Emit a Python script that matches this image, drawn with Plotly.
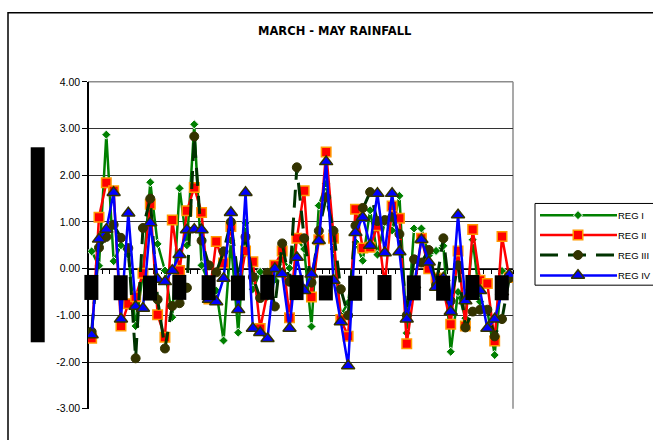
import plotly.graph_objects as go

W, H = 653, 440

# ---- data -------------------------------------------------------------
years = list(range(1950, 2008))

reg_i = [0.37, 0.06, 2.87, 0.16, 0.50, 0.30, -1.23, -0.10, 1.85, 0.53,
         -0.04, -1.04, 1.72, 0.50, 3.09, 0.07, -0.30, -0.47, -1.54, 0.60,
         -1.37, 0.98, -0.44, -0.07, -0.60, -0.24, 0.20, 0.01, 0.65, 0.42,
         -1.24, 1.35, 1.82, 0.42, -1.00, -0.73, 0.57, 0.17, 1.25, 0.30,
         1.00, 0.82, 1.56, -1.38, 0.86, 0.86, 0.28, 0.38, 0.49, -1.78,
         -0.50, -1.06, 0.62, -0.71, -0.90, -1.85, -0.05, -0.12]

reg_ii = [-1.49, 1.10, 1.84, 1.67, -1.23, -0.75, -0.60, -0.10, 1.38, -0.99,
          -1.47, 1.04, -0.04, 1.24, 1.74, 1.20, -0.65, 0.58, 0.12, 0.90,
          -0.50, 0.38, 0.15, -1.28, -0.50, 0.07, 0.38, -1.05, 0.65, 1.67,
          -0.61, 0.62, 2.50, 0.65, -1.09, -1.45, 1.27, 0.44, 0.46, 0.92,
          -0.35, 1.34, 1.08, -1.61, -0.45, 0.65, 0.00, -0.20, -0.45, -1.19,
          0.38, -1.23, 0.84, -0.25, -0.32, -1.55, 0.69, -0.19]

reg_iii = [-1.35, 0.45, 0.68, 0.94, 0.66, 0.44, -1.92, 0.87, 1.50, -0.66,
           -1.71, -0.80, -0.74, -0.41, 2.83, 0.60, 0.07, -0.08, 0.37, 1.00,
           -0.20, 0.68, -0.18, -0.63, -0.09, -0.81, 0.54, -0.28, 2.17, 0.65,
           -0.30, 0.81, 1.53, 0.81, -0.44, -1.00, 0.92, 1.30, 1.64, 1.02,
           1.04, 1.10, 0.74, -1.00, 0.20, 0.13, 0.40, -0.35, 0.65, -0.69,
           0.07, -1.26, -0.92, -0.88, -0.88, -1.45, -1.08, -0.20]

reg_iv = [-1.42, 0.63, 0.84, 1.63, -1.08, 1.19, -0.81, -0.85, 0.98, -0.23,
          -0.28, -0.04, 0.30, 0.83, 0.84, 0.83, -0.66, -0.71, -0.21, 1.20,
          -0.88, 1.63, -1.28, -1.37, -1.50, 0.00, -0.11, -1.28, 0.24, -0.47,
          -0.12, 0.60, 2.29, -0.25, -1.14, -2.08, 0.77, 1.10, 0.50, 1.61,
          0.34, 1.61, 0.36, -1.08, -0.35, 0.62, 0.14, -0.40, -0.20, -0.92,
          1.15, -0.69, -0.40, -0.47, -1.28, -1.08, -0.50, -0.13]

series_names = ["REG I", "REG II", "REG III", "REG IV"]
y_tickvals = [-3, -2, -1, 0, 1, 2, 3, 4]
y_ticktext = ["-3.00", "-2.00", "-1.00", "0.00", "1.00", "2.00", "3.00", "4.00"]
year_labels = years[::4]
title_text = "MARCH - MAY RAINFALL"
y_title = "Standardized Rainfall Index"

# ---- layout geometry (pixels) -----------------------------------------
PL, PR, PT, PB = 88, 513, 78, 414          # plot area
Y_MIN, Y_MAX = -3, 4
ydom = [1 - PB / H, 1 - PT / H]
x_axis_pos = ydom[0] + (0 - Y_MIN) / (Y_MAX - Y_MIN) * (ydom[1] - ydom[0])

styles = [
    dict(line=dict(color="#008000", width=2.5),
         marker=dict(symbol="diamond", size=7, color="#008000",
                     line=dict(color="white", width=1))),
    dict(line=dict(color="#FF0000", width=2.5),
         marker=dict(symbol="square", size=9.5, color="#FF0000",
                     line=dict(color="#FF9900", width=1.5))),
    dict(line=dict(color="#003300", width=3, dash="18px,10px"),
         marker=dict(symbol="circle", size=9, color="#333300",
                     line=dict(color="#333300", width=1))),
    dict(line=dict(color="#0000FF", width=2.5),
         marker=dict(symbol="triangle-up", size=11.5, color="#0000FF",
                     line=dict(color="#333300", width=1.5))),
]

fig = go.Figure()

for name, vals, st in zip(series_names, [reg_i, reg_ii, reg_iii, reg_iv], styles):
    fig.add_trace(go.Scatter(x=years, y=vals, name=name, mode="lines+markers",
                             line=st["line"], marker=st["marker"],
                             showlegend=False, xaxis="x", yaxis="y"))

# ---- legend drawn on a full-page pixel overlay --------------------------
LEG_X0, LEG_Y0, LEG_X1, LEG_Y1 = 535, 203, 662, 287
leg_rows = [215, 235.5, 256, 277]
for name, st, yc in zip(series_names, styles, leg_rows):
    fig.add_trace(go.Scatter(x=[540, 617], y=[yc, yc], mode="lines",
                             line=st["line"], showlegend=False,
                             hoverinfo="skip", xaxis="x2", yaxis="y2",
                             cliponaxis=False))
    fig.add_trace(go.Scatter(x=[578], y=[yc], mode="markers",
                             marker=st["marker"], showlegend=False,
                             hoverinfo="skip", xaxis="x2", yaxis="y2",
                             cliponaxis=False))

annotations = []
for name, yc in zip(series_names, leg_rows):
    annotations.append(dict(x=616 / W, y=1 - yc / H, xref="paper", yref="paper",
                            text=name, showarrow=False, xanchor="left",
                            yanchor="middle",
                            font=dict(family="Arial, Liberation Sans", size=9.5,
                                      color="black")))

# title
annotations.append(dict(x=335 / W, y=1 - 26 / H, xref="paper", yref="paper",
                        text="<b>" + title_text + "</b>", showarrow=False,
                        xanchor="center", yanchor="middle",
                        font=dict(family="DejaVu Sans", size=11.5, color="black")))

# axis title (rendered as a solid block)
annotations.append(dict(x=37.5 / W, y=1 - 246 / H, xref="paper", yref="paper",
                        text=y_title, showarrow=False, textangle=-90,
                        width=194, height=13, bgcolor="black", borderpad=0,
                        font=dict(family="Arial", size=10, color="black"),
                        xanchor="center", yanchor="middle"))

# category labels (rendered as solid blocks)
for yr in year_labels:
    annotations.append(dict(x=yr, y=-0.41, xref="x", yref="y", text=str(yr),
                            showarrow=False, textangle=-90, width=24, height=12.5,
                            bgcolor="black", borderpad=0,
                            font=dict(family="Arial", size=9, color="black"),
                            xanchor="center", yanchor="middle"))

shapes = [
    # outer chart frame
    dict(type="rect", xref="paper", yref="paper", x0=8 / W, x1=1.2,
         y0=-0.2, y1=1 - 7 / H, line=dict(color="black", width=1.5)),
    # plot-area border (top, right)
    dict(type="line", xref="paper", yref="paper", x0=PL / W, x1=PR / W,
         y0=ydom[1], y1=ydom[1], line=dict(color="#8c8c8c", width=1.5),
         layer="between"),
    dict(type="line", xref="paper", yref="paper", x0=PR / W, x1=PR / W,
         y0=ydom[0], y1=ydom[1], line=dict(color="#8c8c8c", width=1.5),
         layer="between"),
    # legend box
    dict(type="rect", xref="paper", yref="paper", x0=LEG_X0 / W, x1=LEG_X1 / W,
         y0=1 - LEG_Y1 / H, y1=1 - LEG_Y0 / H, line=dict(color="black", width=1)),
]

fig.update_layout(
    width=W, height=H,
    margin=dict(l=0, r=0, t=0, b=0),
    paper_bgcolor="white", plot_bgcolor="rgba(0,0,0,0)",
    showlegend=False,
    xaxis=dict(domain=[PL / W, PR / W], range=[years[0] - 0.5, years[-1] + 0.5],
               anchor="free", position=x_axis_pos,
               tick0=years[0] - 0.5, dtick=1, ticks="outside", ticklen=4,
               tickcolor="black", showticklabels=False, showgrid=False,
               showline=True, linecolor="black", linewidth=1, zeroline=False,
               layer="below traces", fixedrange=True),
    yaxis=dict(domain=ydom, range=[Y_MIN, Y_MAX], anchor="free",
               position=PL / W, tickvals=y_tickvals, ticktext=y_ticktext,
               ticks="outside", ticklen=5, tickcolor="black",
               tickfont=dict(family="Arial", size=10.5, color="black"),
               showgrid=True, gridcolor="#333333", gridwidth=1,
               showline=True, linecolor="black", linewidth=1.5, zeroline=False,
               layer="below traces", fixedrange=True),
    xaxis2=dict(domain=[0, 1], range=[0, W], visible=False, fixedrange=True,
                anchor="y2"),
    yaxis2=dict(domain=[0, 1], range=[H, 0], visible=False, fixedrange=True,
                anchor="x2"),
    annotations=annotations,
    shapes=shapes,
)

fig.write_html("out.html")
